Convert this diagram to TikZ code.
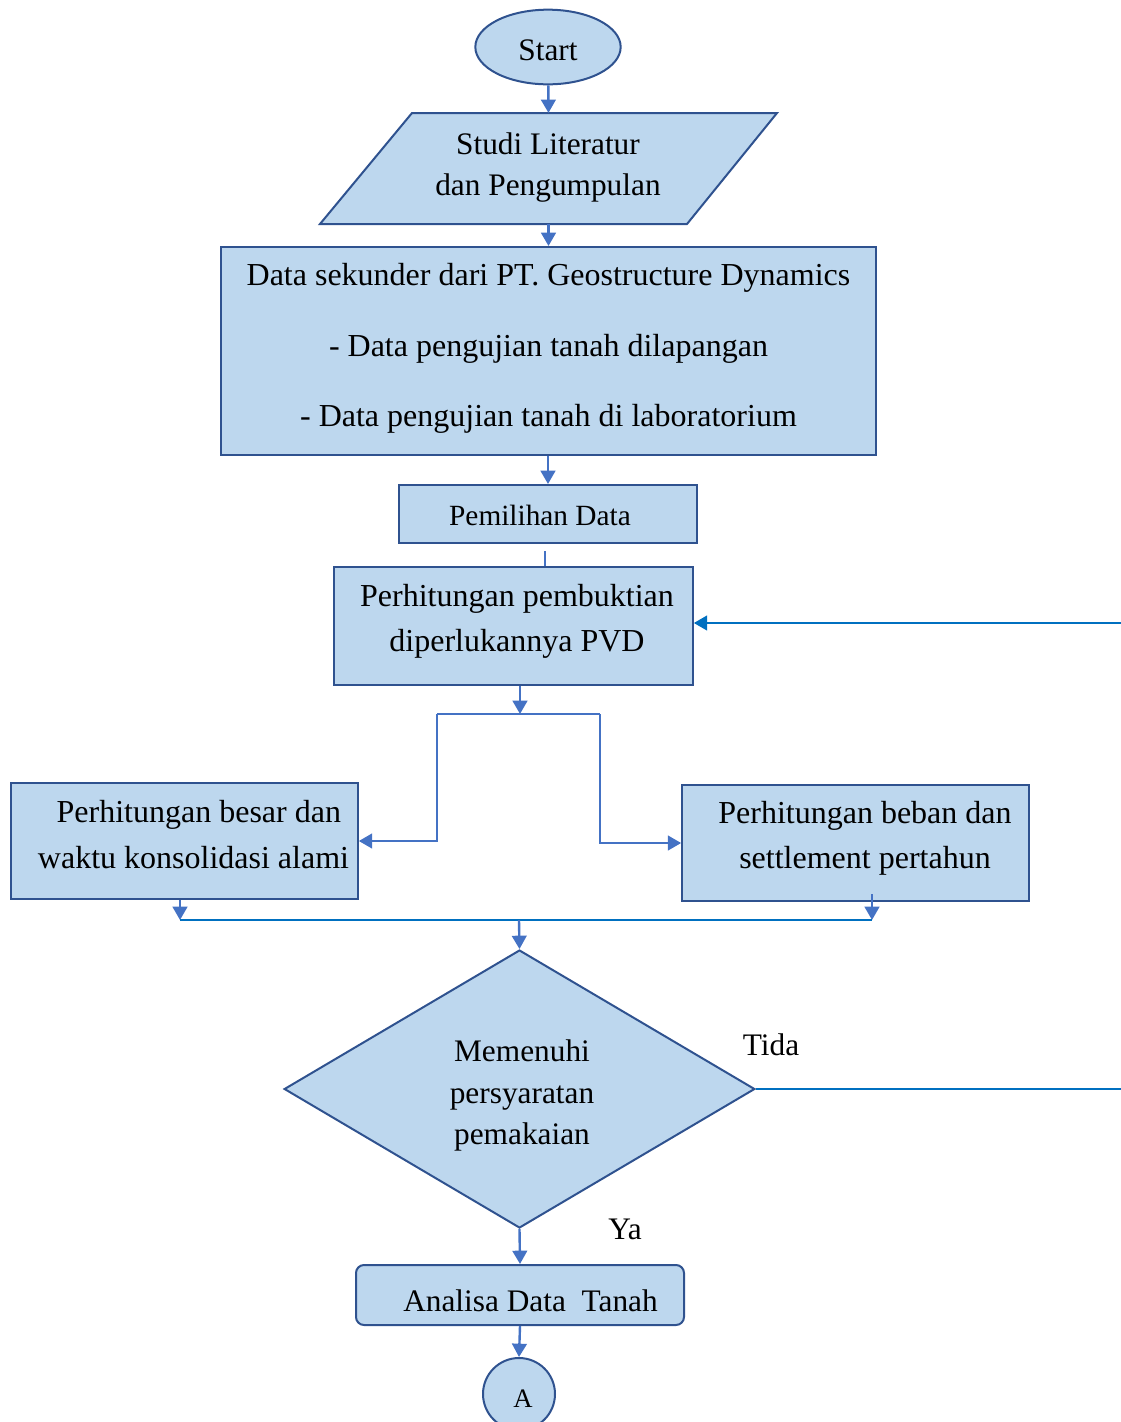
\documentclass[tikz,border=0pt]{standalone}
\usepackage{fontspec}
\setmainfont{Liberation Serif}
\usetikzlibrary{shapes.geometric,arrows.meta}
\definecolor{boxfill}{RGB}{189,215,238}
\definecolor{boxline}{RGB}{47,82,143}
\definecolor{arrline}{RGB}{68,114,196}
\definecolor{darkline}{RGB}{0,112,192}
\tikzset{
  box/.style={draw=boxline,fill=boxfill,line width=1.5pt,inner sep=0pt,align=center,font=\fontsize{24}{34}\selectfont},
  txt/.style={inner sep=0pt,align=center,font=\fontsize{24}{34}\selectfont},
  arr/.style={draw=arrline,line width=1.8pt,-{Triangle[length=10pt,width=11pt]}},
  plain/.style={draw=arrline,line width=1.8pt},
  darkln/.style={draw=darkline,line width=1.8pt},
  lbl/.style={font=\fontsize{23.5}{28}\selectfont,inner sep=0pt}
}
\begin{document}
\begin{tikzpicture}[x=0.75pt,y=-0.75pt]
\useasboundingbox (0,0) rectangle (1121,1422);
% Start
\node[box,ellipse,minimum width=109pt,minimum height=56pt] (start) at (548,47) {};
\node[txt,font=\fontsize{23.5}{28}\selectfont] (starttext) at (548,50) {Start};
% parallelogram
\node[inner sep=0pt,minimum width=343pt,minimum height=83pt] (lit) at (548.5,168.5) {};
\draw[boxline,fill=boxfill,line width=1.5pt] (412,113) -- (777,113) -- (687,224) -- (320,224) -- cycle;
\node[txt,font=\fontsize{23.5}{31}\selectfont] (littext) at (548,167.5) {Studi Literatur\\dan Pengumpulan};
% data box
\node[box,minimum width=491pt,minimum height=156pt] (data) at (548.5,351) {};
\node[txt,font=\fontsize{24}{53}\selectfont] (datatext) at (548.5,348.5) {Data sekunder dari PT. Geostructure Dynamics\\- Data pengujian tanah dilapangan\\- Data pengujian tanah di laboratorium};
% pemilihan
\node[box,minimum width=223.5pt,minimum height=43.5pt,font=\fontsize{22}{26}\selectfont] (pem) at (548,514) {};
\node[txt,font=\fontsize{22}{26}\selectfont] (pemtext) at (540,515) {Pemilihan Data};
% perhitungan
\node[box,minimum width=269pt,minimum height=88.5pt] (perh) at (513.5,626) {};
\node[txt] (perhtext) at (517,621.5) {Perhitungan pembuktian\\diperlukannya PVD};
% left / right
\node[box,minimum width=260pt,minimum height=87pt] (left) at (184.5,841) {};
\node[txt] (lefttext) at (193.5,834.5) {\hspace*{8pt}Perhitungan besar dan\\waktu konsolidasi alami};
\node[box,minimum width=260pt,minimum height=87pt] (right) at (855.5,843) {};
\node[txt] (righttext) at (865,838.5) {Perhitungan beban dan\\settlement pertahun};
% diamond
\node[box,diamond,shape aspect=1.69,minimum width=353pt,minimum height=208.5pt] (dia) at (519.5,1089) {};
\node[txt,font=\fontsize{23.5}{31}\selectfont] (diatext) at (522,1095.5) {Memenuhi\\persyaratan\\pemakaian};
% analisa
\node[box,rounded corners=6pt,minimum width=246pt,minimum height=45pt] (ana) at (520,1295) {};
\node[txt,font=\fontsize{23.5}{28}\selectfont] (anatext) at (530.5,1301) {Analisa Data\ \ Tanah};
% circle
\node[box,circle,minimum size=54pt] (circ) at (519,1394) {};
\node[txt,font=\fontsize{20}{24}\selectfont] (circtext) at (523,1399) {A};
% labels
\node[lbl] (tida) at (771,1045) {Tida};
\node[lbl] (ya) at (625,1229) {Ya};
% coordinates
\coordinate (br) at (520,714);
\coordinate (brL) at (437,714);
\coordinate (brR) at (600,714);
\coordinate (mL) at (180,920);
\coordinate (mR) at (872,920);
\coordinate (mC) at (519,920);
\coordinate (eR) at (1121,1089);
\coordinate (eT) at (1121,623);
\coordinate (pemgap) at (545,551);
% connectors
\draw[arr] (start) -- (lit.north);
\draw[arr] (lit.south) -- (data.north);
\draw[arr] (data.south -| pem) -- (pem.north);
\draw[plain] (pemgap) -- (pemgap |- perh.north);
\draw[arr] (perh.south -| br) -- (br);
\draw[plain] (brL) -- (brR);
\draw[arr] (brL) |- (left.east);
\draw[arr] (brR) |- (right.west);
\draw[arr] (left.south -| mL) -- (mL);
\draw[arr] ([yshift=6pt]right.south -| mR) -- (mR);
\draw[darkln] (mL) -- (mR);
\draw[arr] (mC) -- (dia.north);
\draw[darkln] (dia.east) -- (eR);
\draw[arr,draw=darkline] (eT) -- (eT -| perh.east);
\draw[arr] (dia.south) -- (ana.north);
\draw[arr] (ana.south) -- (circ.north);
\end{tikzpicture}
\end{document}
